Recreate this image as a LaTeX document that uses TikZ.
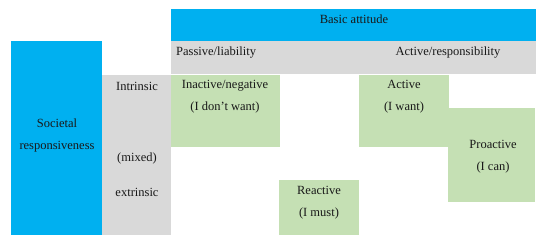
\documentclass[tikz,border=0pt]{standalone}
\usepackage{fontspec}
\setmainfont{Liberation Serif}
\usetikzlibrary{calc,positioning}
\definecolor{cyanbar}{HTML}{00B0F0}
\definecolor{greybar}{HTML}{D9D9D9}
\definecolor{greencell}{HTML}{C5E0B4}
% \cellbox{name}{fill}{(x1,y1)}{(x2,y2)}
\newcommand{\cellbox}[4]{%
    \fill[#2] #3 rectangle #4;%
    \coordinate (#1) at ($#3!0.5!#4$);%
}
\begin{document}
\begin{tikzpicture}[
        x=1pt,
        y=-1pt,
        lbl/.style={font=\fontsize{12.5}{22}\selectfont, align=center, inner sep=0pt, text=black!90}
    ]
        \useasboundingbox (0,0) rectangle (550,247);
        % === BANDES ===
        \cellbox{attitude}{cyanbar}{(171,9)}{(536,41)}
        \cellbox{mode}{greybar}{(171,41)}{(536,74)}
        \cellbox{societal}{cyanbar}{(11,41)}{(102,235)}
        \cellbox{motive}{greybar}{(102,75)}{(171,235)}
        % === CASES ===
        \cellbox{inactive}{greencell}{(171,75)}{(280,147)}
        \cellbox{active}{greencell}{(359,75)}{(449,147)}
        \cellbox{proactive}{greencell}{(448,108)}{(535,202)}
        \cellbox{reactive}{greencell}{(279,180)}{(359,235)}

        % === TEXTES ===
        \node[lbl] (attitudetxt) at (354,19) {Basic attitude};
        \node[lbl, anchor=west] (passivetxt) at (176,53) {Passive/liability};
        \node[lbl] (responsibletxt) at (448,53) {Active/responsibility};
        \node[lbl] (societaltxt) at (57,135) {Societal\\responsiveness};
        \node[lbl] (intrinsictxt) at (137,86) {Intrinsic};
        \node[lbl] (mixedtxt) at (137,158) {(mixed)};
        \node[lbl] (extrinsictxt) at (137,192) {extrinsic};
        \node[lbl] (inactivetxt) at (225,97) {Inactive/negative\\(I don't want)};
        \node[lbl] (activetxt) at (404,97) {Active\\(I want)};
        \node[lbl] (proactivetxt) at (493,157) {Proactive\\(I can)};
        \node[lbl] (reactivetxt) at (319,203) {Reactive\\(I must)};
    \end{tikzpicture}
\end{document}
